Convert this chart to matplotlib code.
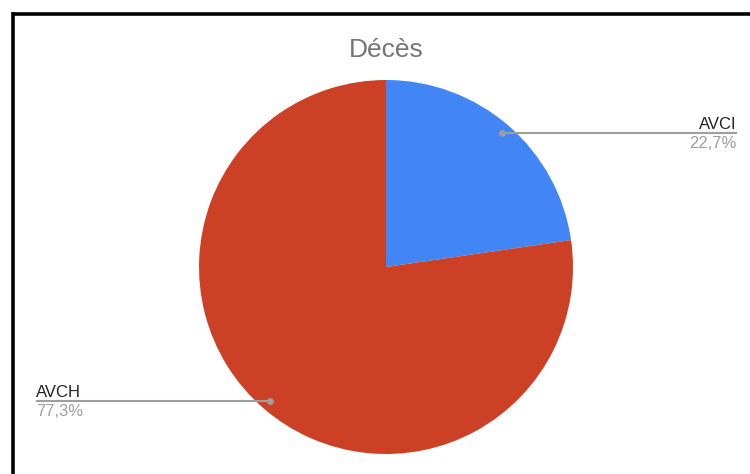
import numpy as np
import matplotlib
matplotlib.use("Agg")
import matplotlib.pyplot as plt
from matplotlib.lines import Line2D

title = "Décès"
categories = ["AVCI", "AVCH"]
values = [22.7, 77.3]
pct_labels = ["22,7%", "77,3%"]
colors = ["#4285F4", "#CC4125"]

W, H = 750, 474
fig = plt.figure(figsize=(W / 100, H / 100), dpi=100)
ax = fig.add_axes([0, 0, 1, 1])

cx, cy, r = 386, H - 267, 187
wedges, _ = ax.pie(values, colors=colors, startangle=90, counterclock=False,
                   center=(cx, cy), radius=r, frame=True,
                   wedgeprops=dict(linewidth=0))
ax.set_xlim(0, W)
ax.set_ylim(0, H)
ax.set_aspect("equal")
ax.axis("off")

# leader lines and labels
label_x = {"right": 737, "left": 36}
for w, name, pct in zip(wedges, categories, pct_labels):
    ang = np.deg2rad((w.theta1 + w.theta2) / 2)
    px = cx + 0.95 * r * np.cos(ang)
    py = cy + 0.95 * r * np.sin(ang)
    side = "right" if np.cos(ang) > 0 else "left"
    lx = label_x[side]
    ax.plot([px, lx], [py, py], color="#9E9E9E", lw=1.5, solid_capstyle="butt", zorder=3)
    ax.plot([px], [py], "o", color="#9E9E9E", ms=5, mec="none", zorder=4)
    ha = "right" if side == "right" else "left"
    ax.text(lx, py + 4, name, ha=ha, va="baseline", fontsize=12,
            color="#222222", family="Liberation Sans")
    ax.text(lx, py - 15, pct, ha=ha, va="baseline", fontsize=12,
            color="#9E9E9E", family="Liberation Sans")

ax.text(cx, H - 57, title, ha="center", va="baseline", fontsize=19,
        color="#757575", family="Liberation Sans")

# frame edge along top and left
fig.add_artist(Line2D([13.5 / W, 1], [1 - 13.5 / H, 1 - 13.5 / H],
                      transform=fig.transFigure, color="black", lw=2.6,
                      solid_capstyle="butt"))
fig.add_artist(Line2D([13.5 / W, 13.5 / W], [0, 1 - 12 / H],
                      transform=fig.transFigure, color="black", lw=2.6,
                      solid_capstyle="butt"))

fig.savefig("out.png", dpi=100, facecolor="white")
